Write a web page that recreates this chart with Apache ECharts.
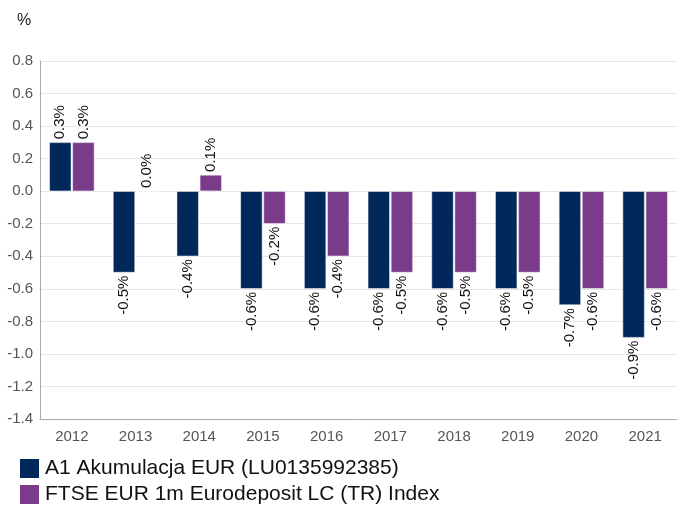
<!DOCTYPE html>
<html><head><meta charset="utf-8">
<script src="https://cdn.jsdelivr.net/npm/echarts@6/dist/echarts.min.js"></script>
<style>html,body{margin:0;padding:0;background:#fff}#c{width:677px;height:506px}</style>
</head><body><div id="c"></div>
<script>
const categories = ['2012','2013','2014','2015','2016','2017','2018','2019','2020','2021'];
const seriesA1 = [0.3,-0.5,-0.4,-0.6,-0.6,-0.6,-0.6,-0.6,-0.7,-0.9];
const seriesFTSE = [0.3,0.0,0.1,-0.2,-0.4,-0.5,-0.5,-0.5,-0.6,-0.6];
const nameA1 = 'A1 Akumulacja EUR (LU0135992385)';
const nameFTSE = 'FTSE EUR 1m Eurodeposit LC (TR) Index';

function items(vals){
  return vals.map(v => ({
    value: v,
    label: v >= 0
      ? {position:'top', align:'left', verticalAlign:'middle'}
      : {position:'bottom', align:'right', verticalAlign:'middle'}
  }));
}
const labelBase = {show:true, rotate:90, distance:3, fontFamily:'Liberation Sans', fontSize:15, color:'#111',
  formatter: p => p.value.toFixed(1) + '%'};
const legendText = {fontSize:21, color:'#111', fontFamily:'Liberation Sans'};

const chart = echarts.init(document.getElementById('c'));
chart.setOption({
  animation:false,
  textStyle:{fontFamily:'Liberation Sans'},
  title:{text:'%', left:12, top:8, textStyle:{fontSize:16, fontWeight:'normal', color:'#222', fontFamily:'Liberation Sans'}},
  legend:[
    {left:18, top:457, padding:0, itemWidth:21, itemHeight:21, itemGap:5, textStyle:legendText, data:[nameA1], icon:'rect'},
    {left:18, top:483, padding:0, itemWidth:21, itemHeight:21, itemGap:5, textStyle:legendText, data:[nameFTSE], icon:'rect'}
  ],
  grid:{left:40, right:-7, top:61, bottom:87},
  xAxis:{type:'category', data:categories,
    axisLine:{onZero:false, lineStyle:{color:'#aaa'}}, axisTick:{show:false},
    axisLabel:{fontSize:15, color:'#555', margin:10, fontFamily:'Liberation Sans'}},
  yAxis:{type:'value', min:-1.4, max:0.8, interval:0.2,
    axisLine:{show:true, lineStyle:{color:'#aaa'}}, axisTick:{show:false},
    splitLine:{lineStyle:{color:'#e6e6e6'}},
    axisLabel:{fontSize:15, color:'#555', margin:7, fontFamily:'Liberation Sans', formatter: v => v.toFixed(1)}},
  series:[
    {name:nameA1, type:'bar', data:items(seriesA1), barWidth:22, barGap:'5%',
     itemStyle:{color:'#00285a', borderColor:'#fff', borderWidth:0.5}, label:labelBase},
    {name:nameFTSE, type:'bar', data:items(seriesFTSE), barWidth:22,
     itemStyle:{color:'#7b3b8b', borderColor:'#fff', borderWidth:0.5}, label:labelBase}
  ]
});
</script></body></html>
